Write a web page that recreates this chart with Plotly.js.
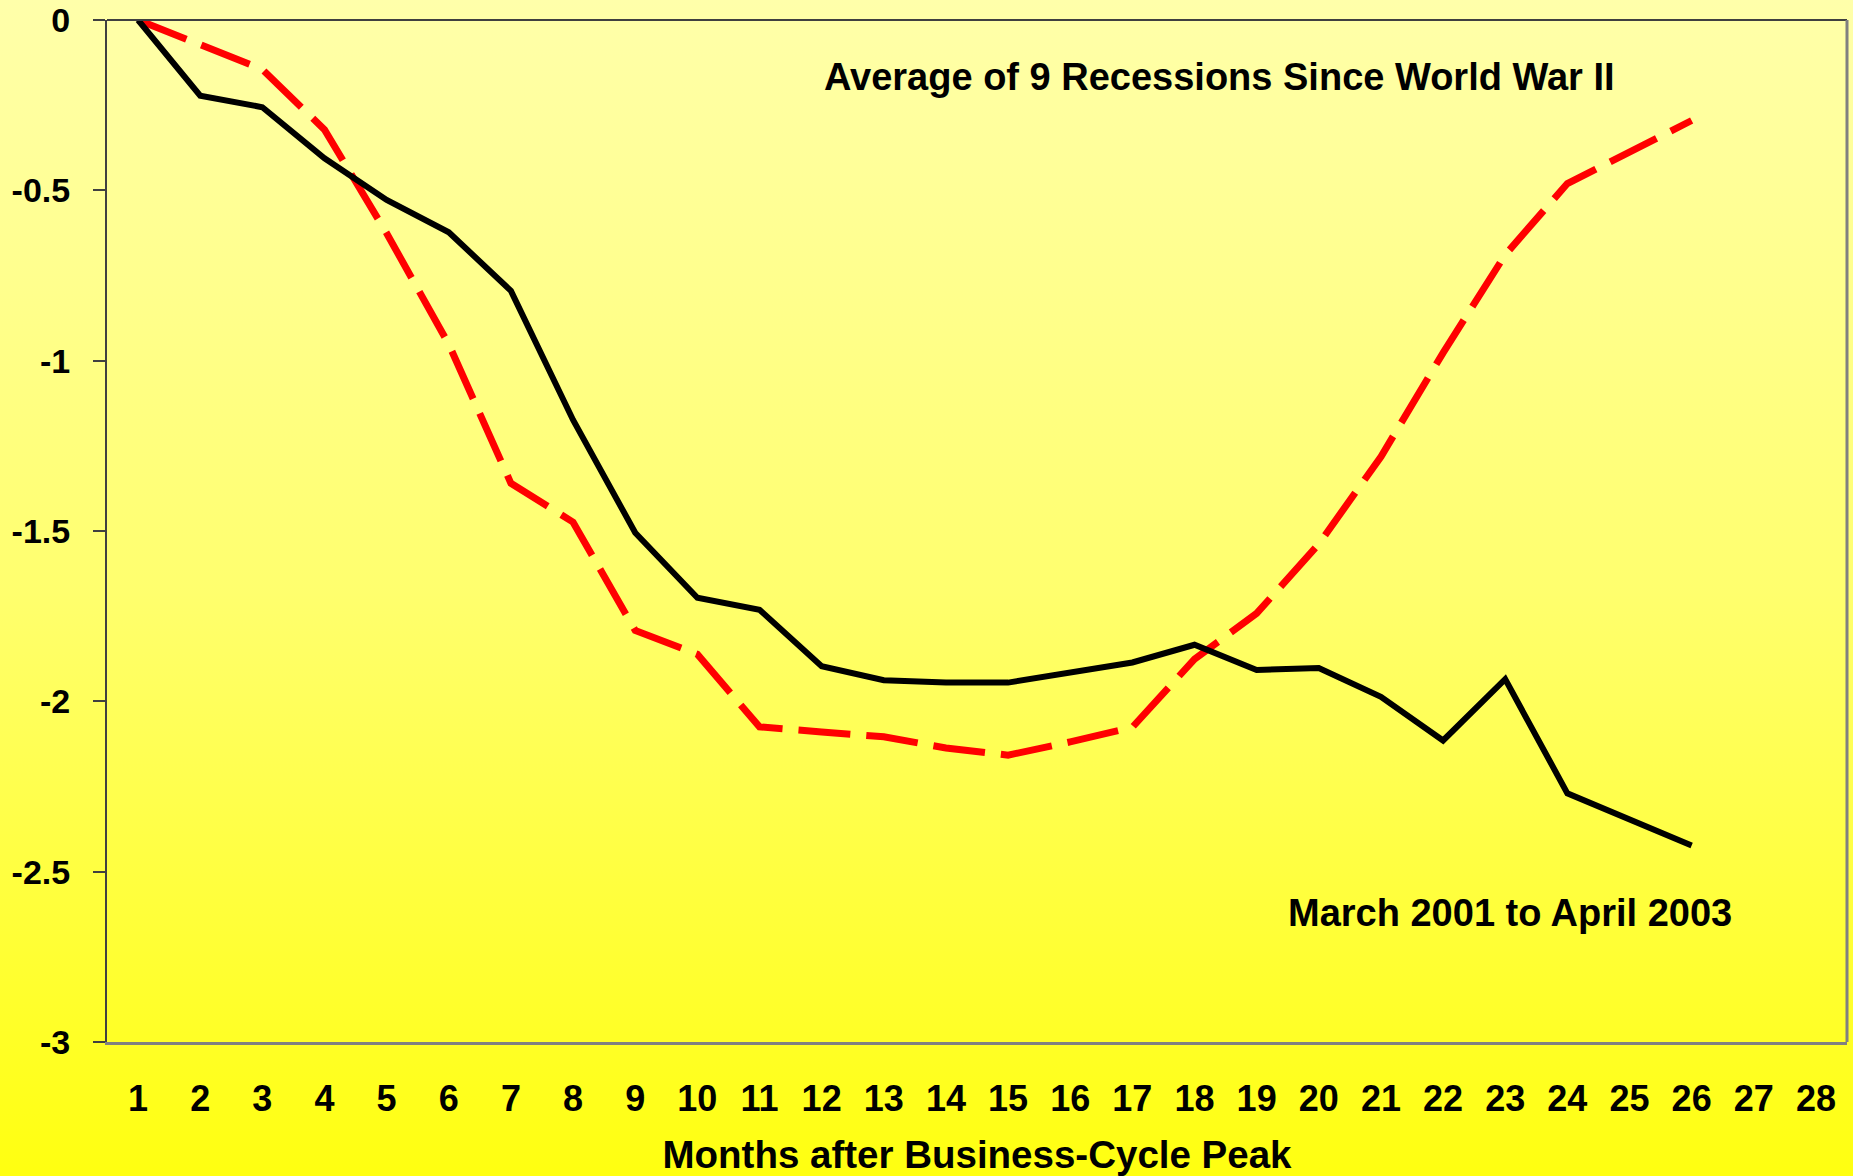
<!DOCTYPE html>
<html>
<head>
<meta charset="utf-8">
<script src="https://cdn.plot.ly/plotly-3.0.1.min.js"></script>
<style>
  html, body { margin: 0; padding: 0; width: 1853px; height: 1176px; overflow: hidden;
    background: linear-gradient(to bottom, #FFFFAA 0%, #FFFF6E 50%, #FFFF10 100%); }
  #chart { width: 1853px; height: 1176px; }
</style>
</head>
<body>
<div id="chart"></div>
<script>
// Month labels on the x axis
const monthTicks = [1,2,3,4,5,6,7,8,9,10,11,12,13,14,15,16,17,18,19,20,21,22,23,24,25,26,27,28];
// Months for which data are plotted
const months = [1,2,3,4,5,6,7,8,9,10,11,12,13,14,15,16,17,18,19,20,21,22,23,24,25,26];
// March 2001 to April 2003 (solid black)
const recession2001 = [0, -0.222, -0.256, -0.406, -0.528, -0.623, -0.795, -1.174, -1.505, -1.696,
  -1.731, -1.897, -1.938, -1.945, -1.945, -1.917, -1.886, -1.834, -1.908, -1.902,
  -1.987, -2.115, -1.935, -2.270, -2.348, -2.423];
// Average of 9 recessions since World War II (dashed red)
const averageNine = [0, -0.075, -0.145, -0.322, -0.626, -0.952, -1.360, -1.474, -1.792, -1.862,
  -2.075, -2.090, -2.104, -2.137, -2.158, -2.119, -2.076, -1.876, -1.742, -1.538,
  -1.282, -0.977, -0.689, -0.480, -0.387, -0.295];
const yTicks = [0, -0.5, -1, -1.5, -2, -2.5, -3];
const yTickText = ['0', '-0.5', '-1', '-1.5', '-2', '-2.5', '-3'];

const FONT = 'Liberation Sans, Arial, Helvetica, sans-serif';

const traces = [
  {
    x: months, y: averageNine, type: 'scatter', mode: 'lines',
    name: 'Average of 9 Recessions Since World War II',
    line: { color: '#FF0000', width: 7, dash: '52px,16px' }
  },
  {
    x: months, y: recession2001, type: 'scatter', mode: 'lines',
    name: 'March 2001 to April 2003',
    line: { color: '#000000', width: 6 }
  }
];

const layout = {
  width: 1853, height: 1176,
  margin: { l: 107, r: 6, t: 20, b: 134 },
  paper_bgcolor: 'rgba(0,0,0,0)',
  plot_bgcolor: 'rgba(0,0,0,0)',
  showlegend: false,
  font: { family: FONT, color: '#000000', weight: 'bold' },
  xaxis: {
    range: [0.5, 28.5],
    tickmode: 'array', tickvals: monthTicks, ticktext: monthTicks.map(String),
    showgrid: false, zeroline: false,
    showline: true, linecolor: '#808080', linewidth: 3,
    ticks: '', ticklabelstandoff: 23,
    tickfont: { family: FONT, size: 36, color: '#000000', weight: 'bold' },
    title: { text: 'Months after Business-Cycle Peak', standoff: 25,
      font: { family: FONT, size: 38.5, color: '#000000', weight: 'bold' } }
  },
  yaxis: {
    range: [-3, 0],
    tickmode: 'array', tickvals: yTicks, ticktext: yTickText,
    showgrid: false, zeroline: false,
    showline: true, linecolor: '#404040', linewidth: 2,
    ticks: 'outside', ticklen: 12, tickwidth: 2, tickcolor: '#404040',
    ticklabelstandoff: 16, ticklabeloverflow: 'allow',
    tickfont: { family: FONT, size: 34, color: '#000000', weight: 'bold' }
  },
  shapes: [
    { type: 'line', xref: 'paper', yref: 'paper', x0: 0, x1: 1, y0: 1, y1: 1,
      line: { color: '#404040', width: 2 } },
    { type: 'line', xref: 'paper', yref: 'paper', x0: 1, x1: 1, y0: 0, y1: 1,
      line: { color: '#808080', width: 3 } }
  ],
  annotations: [
    { text: 'Average of 9 Recessions Since World War II', x: 18.41, y: -0.168,
      xref: 'x', yref: 'y', showarrow: false, xanchor: 'center', yanchor: 'middle',
      font: { family: FONT, size: 38, color: '#000000', weight: 'bold' } },
    { text: 'March 2001 to April 2003', x: 23.07, y: -2.62,
      xref: 'x', yref: 'y', showarrow: false, xanchor: 'center', yanchor: 'middle',
      font: { family: FONT, size: 38, color: '#000000', weight: 'bold' } }
  ]
};

Plotly.newPlot('chart', traces, layout, { displayModeBar: false, staticPlot: true });
</script>
</body>
</html>
